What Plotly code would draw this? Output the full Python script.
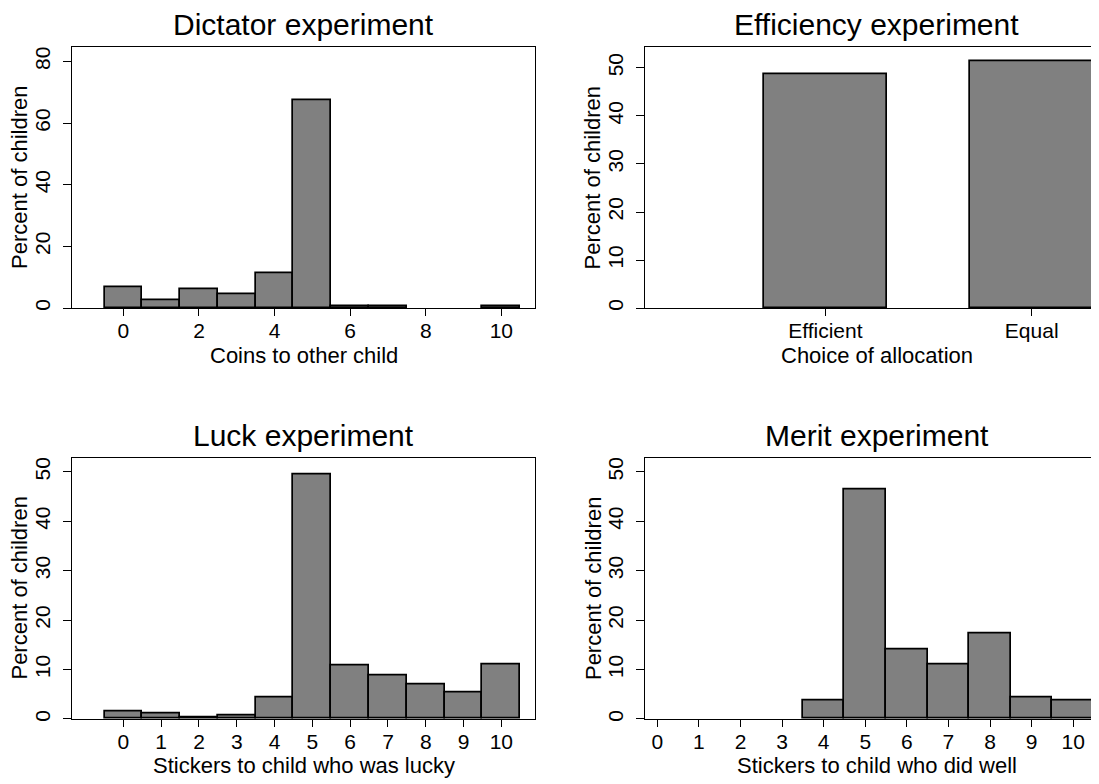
import plotly.graph_objects as go

# Browser page has an 8px body margin; size the figure so it fills the 1099x784 window.
PAGE_W, PAGE_H = 1099, 784
OFF = 8
W, H = PAGE_W - OFF, PAGE_H - OFF

# ---------------- data ----------------
dictator_coins = list(range(11))
dictator_pct = [6.7, 2.7, 6.0, 4.4, 11.4, 67.3, 0.6, 0.6, 0.0, 0.0, 0.6]

alloc_labels = ["Efficient", "Equal"]
alloc_pct = [48.7, 51.4]

luck_stickers = list(range(11))
luck_pct = [1.4, 1.0, 0.34, 0.67, 4.4, 49.5, 10.75, 8.7, 7.05, 5.4, 11.0]

merit_stickers = list(range(11))
merit_pct = [0.0, 0.0, 0.0, 0.0, 3.7, 46.4, 14.0, 10.95, 17.2, 4.4, 3.7]

titles = ["Dictator experiment", "Efficiency experiment", "Luck experiment", "Merit experiment"]
xtitles = ["Coins to other child", "Choice of allocation",
           "Stickers to child who was lucky", "Stickers to child who did well"]
ytitle = "Percent of children"

FONT = "Liberation Sans, Arial, Helvetica, sans-serif"
FILL = "#808080"


def px(x):
    return (x - OFF) / W


def py(y):
    return 1 - (y - OFF) / H


def nz(vals):
    # zero-height bars are not drawn in the reference
    return [v if v > 0 else None for v in vals]


fig = go.Figure()

bar_line = dict(color="black", width=1.7)

fig.add_trace(go.Bar(x=dictator_coins, y=nz(dictator_pct), width=1, marker=dict(color=FILL, line=bar_line),
                     xaxis="x", yaxis="y", showlegend=False))
fig.add_trace(go.Bar(x=alloc_labels, y=nz(alloc_pct), width=0.6, marker=dict(color=FILL, line=bar_line),
                     xaxis="x2", yaxis="y2", showlegend=False))
fig.add_trace(go.Bar(x=luck_stickers, y=nz(luck_pct), width=1, marker=dict(color=FILL, line=bar_line),
                     xaxis="x3", yaxis="y3", showlegend=False))
fig.add_trace(go.Bar(x=merit_stickers, y=nz(merit_pct), width=1, marker=dict(color=FILL, line=bar_line),
                     xaxis="x4", yaxis="y4", showlegend=False))

tickfont = dict(family=FONT, size=21, color="black")

common_x = dict(showline=True, linecolor="black", linewidth=1.3, ticks="outside", ticklen=7,
                tickwidth=1.2, tickcolor="black", showgrid=False, zeroline=False,
                tickfont=tickfont, ticklabelstandoff=-3, fixedrange=True)
common_y = dict(showline=True, linecolor="black", linewidth=1.3, ticks="outside", ticklen=8,
                tickwidth=1.2, tickcolor="black", showgrid=False, zeroline=False,
                tickfont=tickfont, tickangle=-90, ticklabelstandoff=4, fixedrange=True)

L_dom = [px(72), px(535)]
R_dom = [px(645), 1.0]
T_dom = [py(309.3), py(47.3)]
B_dom = [py(721.7), py(459.3)]

fig.update_layout(
    width=W, height=H,
    margin=dict(l=0, r=0, t=0, b=0),
    paper_bgcolor="white", plot_bgcolor="white",
    bargap=0,
    font=dict(family=FONT, color="black"),
    xaxis=dict(common_x, domain=L_dom, range=[-1.36, 10.89], tickvals=[0, 2, 4, 6, 8, 10],
               mirror=True, anchor="y"),
    yaxis=dict(common_y, domain=T_dom, range=[0, 84.65], tickvals=[0, 20, 40, 60, 80],
               mirror=True, anchor="x"),
    xaxis2=dict(common_x, domain=R_dom, type="category", range=[-0.8745, 1.3263],
                mirror=True, anchor="y2"),
    yaxis2=dict(common_y, domain=T_dom, range=[0, 54.3], tickvals=[0, 10, 20, 30, 40, 50],
                mirror=False, anchor="x2"),
    xaxis3=dict(common_x, domain=L_dom, range=[-1.36, 10.89], tickvals=list(range(11)),
                mirror=True, anchor="y3"),
    yaxis3=dict(common_y, domain=B_dom, range=[0, 52.9], tickvals=[0, 10, 20, 30, 40, 50],
                mirror=True, anchor="x3"),
    xaxis4=dict(common_x, domain=R_dom, range=[-0.296, 10.62], tickvals=list(range(11)),
                mirror=True, anchor="y4"),
    yaxis4=dict(common_y, domain=B_dom, range=[0, 52.9], tickvals=[0, 10, 20, 30, 40, 50],
                mirror=False, anchor="x4"),
)

ann = []
title_pos = [(303.5, 25), (877, 25), (303.5, 436.7), (877, 436.7)]
for t, (x, y) in zip(titles, title_pos):
    ann.append(dict(text=t, x=px(x), y=py(y), xref="paper", yref="paper", showarrow=False,
                    xanchor="center", yanchor="middle", font=dict(family=FONT, size=30, color="black")))
xt_pos = [(303.5, 356.7), (877, 356.7), (303.5, 768.3), (877, 768.3)]
for t, (x, y) in zip(xtitles, xt_pos):
    ann.append(dict(text=t, x=px(x), y=py(y), xref="paper", yref="paper", showarrow=False,
                    xanchor="center", yanchor="middle", font=dict(family=FONT, size=22, color="black")))
yt_pos = [(19.3, 178.3), (592.8, 178.3), (19.3, 590.5), (592.8, 590.5)]
for x, y in yt_pos:
    ann.append(dict(text=ytitle, x=px(x), y=py(y), xref="paper", yref="paper", showarrow=False,
                    textangle=-90, xanchor="center", yanchor="middle",
                    font=dict(family=FONT, size=22, color="black")))
fig.update_layout(annotations=ann)

fig.write_html("out.html")
